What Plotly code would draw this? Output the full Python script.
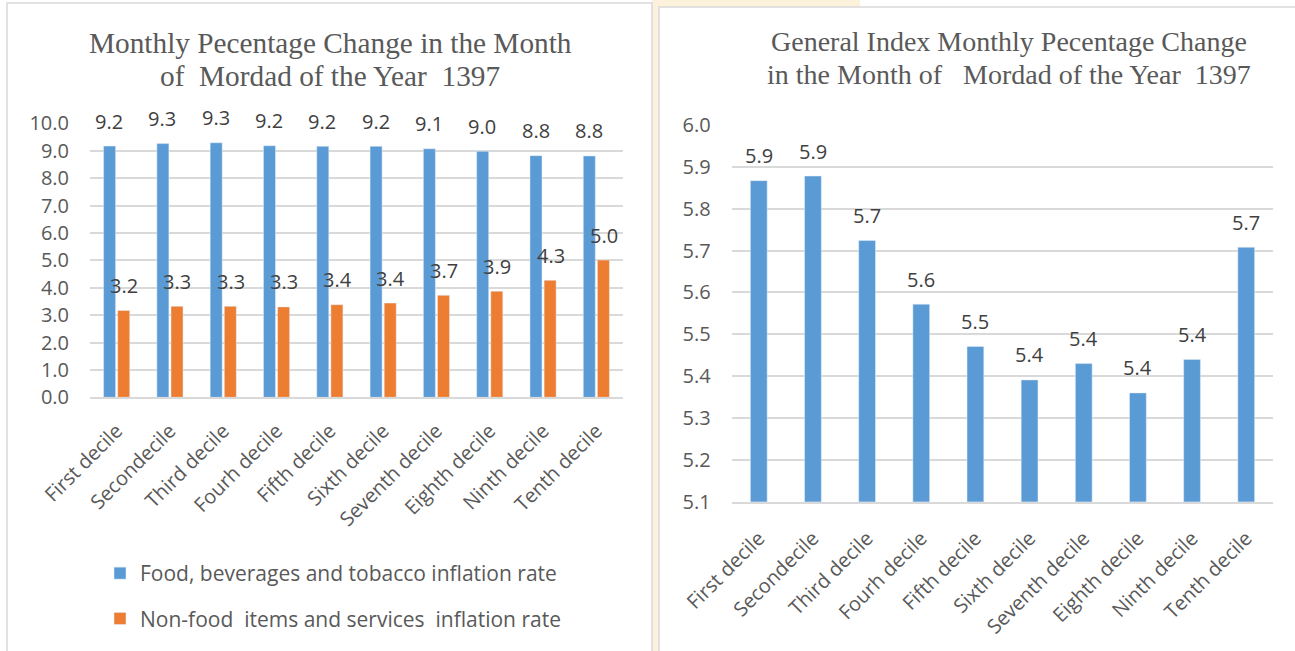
import plotly.graph_objects as go

W, H = 1295, 651

categories = ["First decile", "Secondecile", "Third decile", "Fourh decile", "Fifth decile",
              "Sixth decile", "Seventh decile", "Eighth decile", "Ninth decile", "Tenth decile"]
food = [9.17, 9.26, 9.29, 9.18, 9.16, 9.16, 9.07, 8.98, 8.82, 8.81]
nonfood = [3.17, 3.32, 3.32, 3.30, 3.38, 3.44, 3.72, 3.87, 4.27, 5.01]
general = [5.867, 5.878, 5.724, 5.572, 5.471, 5.391, 5.430, 5.360, 5.440, 5.708]

left_title = ["Monthly Pecentage Change in the Month", "of\u00a0 Mordad of the Year\u00a0 1397"]
right_title = ["General Index Monthly Pecentage Change", "in the Month of\u00a0\u00a0 Mordad of the Year\u00a0 1397"]
food_name = "Food, beverages and tobacco inflation rate"
nonfood_name = "Non-food\u00a0 items and services\u00a0 inflation rate"

BLUE = "#5b9bd5"
ORANGE = "#ed7d31"
GRID = "#d9d9d9"
TXT = "#595959"
LBL = "#404040"
FONT = "Open Sans"


def px(x):
    return x / W


def py(y):
    return 1 - y / H


fig = go.Figure()
fig.add_trace(go.Bar(x=categories, y=food, name=food_name, marker_color=BLUE,
                     xaxis="x", yaxis="y", legendgroup="a"))
fig.add_trace(go.Bar(x=categories, y=nonfood, name=nonfood_name, marker_color=ORANGE,
                     xaxis="x", yaxis="y", legendgroup="b"))
fig.add_trace(go.Bar(x=categories, y=general, name="General index", marker_color=BLUE,
                     xaxis="x2", yaxis="y2", showlegend=False, width=0.31))

annotations = []
for c, v in zip(categories, food):
    annotations.append(dict(x=c, y=v, xref="x", yref="y", text=f"{v:.1f}", showarrow=False,
                            xshift=-7.5, yshift=25, font=dict(size=20, color=LBL, family=FONT)))
for c, v in zip(categories, nonfood):
    annotations.append(dict(x=c, y=v, xref="x", yref="y", text=f"{v:.1f}", showarrow=False,
                            xshift=7.5, yshift=25, font=dict(size=20, color=LBL, family=FONT)))
for c, v in zip(categories, general):
    annotations.append(dict(x=c, y=v, xref="x2", yref="y2", text=f"{v:.1f}", showarrow=False,
                            yshift=25, font=dict(size=20, color=LBL, family=FONT)))

for line, yy in zip(left_title, [43, 76]):
    annotations.append(dict(x=px(330), y=py(yy), xref="paper", yref="paper", text=line,
                            showarrow=False, xanchor="center", yanchor="middle",
                            font=dict(size=29.3, color=TXT, family="Liberation Serif")))
for line, yy in zip(right_title, [42, 74]):
    annotations.append(dict(x=px(1009), y=py(yy), xref="paper", yref="paper", text=line,
                            showarrow=False, xanchor="center", yanchor="middle",
                            font=dict(size=28, color=TXT, family="Liberation Serif")))

shapes = [
    dict(type="rect", xref="paper", yref="paper", x0=px(652), x1=px(659), y0=py(660), y1=py(0),
         fillcolor="#fdf0df", line=dict(width=0), layer="below"),
    dict(type="rect", xref="paper", yref="paper", x0=px(659), x1=px(860), y0=py(8), y1=py(0),
         fillcolor="#fdf3dc", line=dict(width=0), layer="below"),
    dict(type="rect", xref="paper", yref="paper", x0=px(7), x1=px(652), y0=py(660), y1=py(3),
         fillcolor="white", line=dict(color=GRID, width=1.5), layer="below"),
    dict(type="rect", xref="paper", yref="paper", x0=px(659), x1=px(1300), y0=py(660), y1=py(7),
         fillcolor="white", line=dict(color=GRID, width=1.5), layer="below"),
]

tick_font = dict(size=20, color=TXT, family=FONT)

fig.update_layout(
    width=W, height=H,
    margin=dict(l=0, r=0, t=0, b=0, autoexpand=False),
    paper_bgcolor="white",
    plot_bgcolor="rgba(0,0,0,0)",
    barmode="group",
    bargap=0.47,
    bargroupgap=0.15,
    font=dict(family=FONT, color=TXT),
    showlegend=True,
    legend=dict(x=px(100), xanchor="left", y=py(553), yanchor="top",
                orientation="v", font=dict(size=21, color=TXT, family=FONT),
                tracegroupgap=15, bgcolor="rgba(0,0,0,0)"),
    xaxis=dict(domain=[px(90), px(623)], anchor="y", tickangle=-45, tickfont=tick_font,
               showgrid=False, showline=True, linecolor=GRID, linewidth=2, ticks="",
               ticklabelstandoff=12, automargin=False),
    yaxis=dict(domain=[py(397.3), py(123.3)], anchor="x", range=[0, 10], dtick=1,
               tickformat=".1f", tickfont=tick_font, showgrid=True, gridcolor=GRID,
               gridwidth=1.5, zeroline=False, showline=False, ticklabelstandoff=20,
               automargin=False),
    xaxis2=dict(domain=[px(731.7), px(1273.3)], anchor="y2", tickangle=-45, tickfont=tick_font,
                showgrid=False, showline=True, linecolor=GRID, linewidth=2, ticks="",
                ticklabelstandoff=15, automargin=False),
    yaxis2=dict(domain=[py(501.7), py(125)], anchor="x2", range=[5.1, 6.0], dtick=0.1,
                tick0=5.1, tickformat=".1f", tickfont=tick_font, showgrid=True, gridcolor=GRID,
                gridwidth=1.5, zeroline=False, showline=False, ticklabelstandoff=20,
                automargin=False),
    annotations=annotations,
    shapes=shapes,
)

fig.write_html("out.html", config={"displayModeBar": False},
               post_script="document.body.style.margin='0';")
